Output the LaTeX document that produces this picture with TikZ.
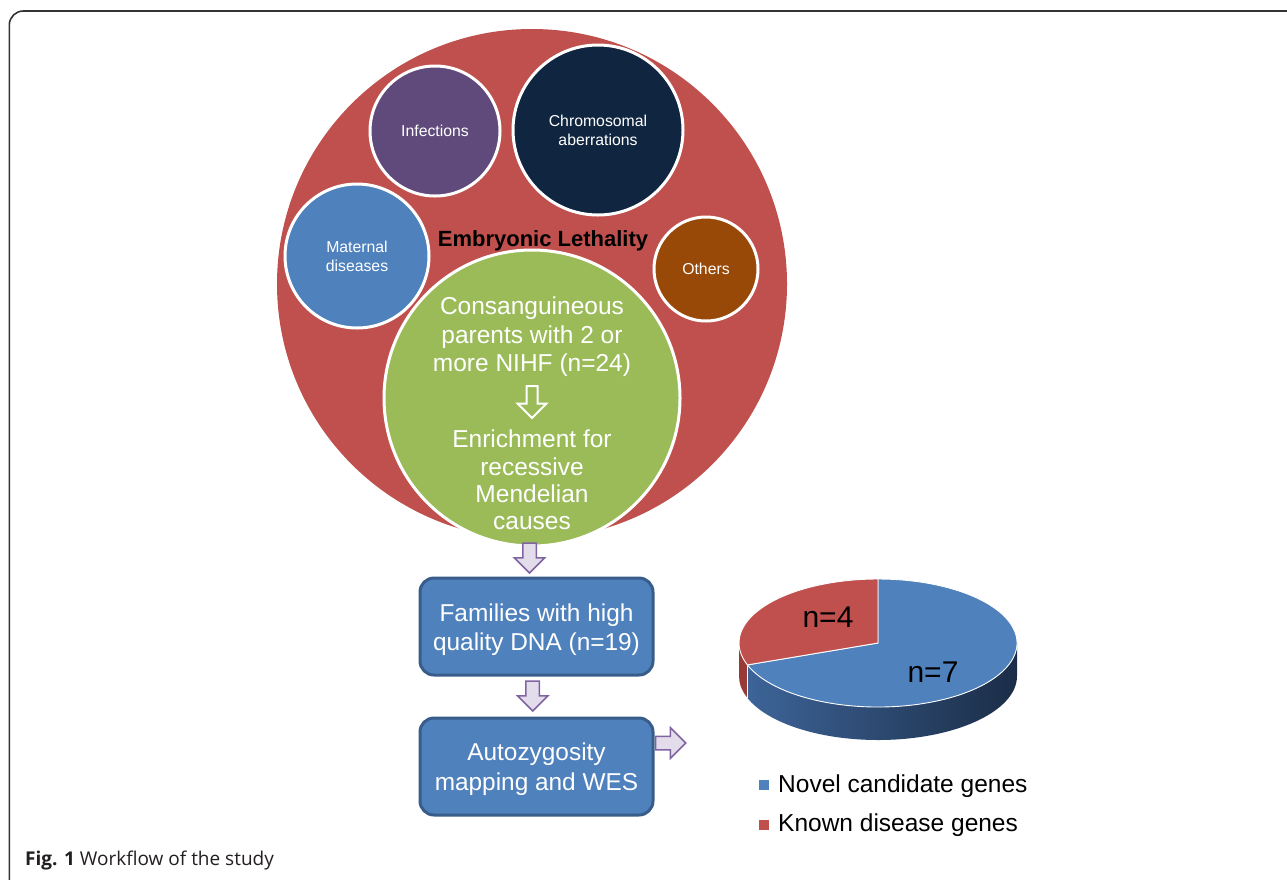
\documentclass[tikz,border=0pt]{standalone}
\usepackage{fontspec}
\setmainfont{Liberation Sans}
\newfontfamily\capfont{Open Sans}
\usetikzlibrary{shapes.arrows}
\definecolor{elred}{HTML}{C0504D}
\definecolor{purp}{HTML}{604A7B}
\definecolor{navy}{HTML}{10253F}
\definecolor{mblue}{HTML}{4F81BD}
\definecolor{brownc}{HTML}{984807}
\definecolor{greenc}{HTML}{9BBB59}
\definecolor{boxborder}{HTML}{385D8A}
\definecolor{arrfill}{HTML}{E2DCEB}
\definecolor{arrdraw}{HTML}{8064A2}
\definecolor{sideblueL}{HTML}{3D6498}
\definecolor{sideblueR}{HTML}{1B2D47}
\definecolor{sidered}{HTML}{9A3A37}
\definecolor{framec}{HTML}{333333}
\definecolor{capc}{HTML}{231F20}
\tikzset{
  smallc/.style={circle, draw=white, line width=3pt, inner sep=0pt, text=white, align=center,
     font=\fontsize{15.8}{19}\selectfont},
  greentext/.style={text=white, align=center, inner sep=0pt, font=\fontsize{24.5}{28.5}\selectfont},
  stepbox/.style={rounded corners=14pt, fill=mblue, draw=boxborder, line width=3pt,
     minimum width=233pt, minimum height=97pt, inner sep=0pt},
  boxtext/.style={text=white, align=center, inner sep=0pt, font=\fontsize{24.4}{29}\selectfont},
  blockarrow/.style={single arrow, fill=arrfill, draw=arrdraw, line width=1.5pt, inner xsep=0pt,
     inner ysep=6pt, single arrow head extend=8.5pt, minimum height=30pt, outer sep=0pt},
  hollowarrow/.style={single arrow, fill=greenc, draw=white, line width=2pt, inner xsep=0pt,
     inner ysep=4.5pt, single arrow head extend=9pt, minimum height=32pt, outer sep=0pt},
  pielabel/.style={text=black, font=\fontsize{30}{34}\selectfont, inner sep=0pt},
  legtext/.style={text=black, anchor=base west, inner sep=0pt, font=\fontsize{24.5}{28}\selectfont},
  legsq/.style={minimum size=10pt, inner sep=0pt},
}
\begin{document}
\begin{tikzpicture}[x=1pt,y=1pt]
\useasboundingbox (0,0) rectangle (1287,-879);
\fill[white] (0,0) rectangle (1287,-879);
% frame
\draw[framec, line width=1.6pt, rounded corners=14pt] (9.3,-890) -- (9.3,-11) -- (1295,-11);

% big circle and inner circles
\node[circle, fill=elred, minimum size=510pt, inner sep=0pt] (lethal) at (532,-284) {};
\node[smallc, fill=purp, minimum size=130pt] (inf) at (435,-131) {Infections};
\node[smallc, fill=navy, minimum size=170pt] (chrom) at (598,-130) {Chromosomal\\aberrations};
\node[smallc, fill=mblue, minimum size=144pt] (mat) at (357,-256) {Maternal\\diseases};
\node[smallc, fill=brownc, minimum size=104pt] (oth) at (706,-269) {Others};
\node[text=black, inner sep=0pt, font=\fontsize{22}{24}\selectfont\bfseries] (title) at (543,-241) {Embryonic Lethality};
\node[circle, fill=greenc, draw=white, line width=3pt, minimum size=296pt, inner sep=0pt] (green) at (532,-398) {};
\node[greentext] (g1) at (532,-337) {Consanguineous\\parents with 2 or\\more NIHF (n=24)};
\node[hollowarrow, rotate=-90, anchor=tail] (harrow) at (532,-386) {};
\node[greentext, font=\fontsize{24.5}{27.4}\selectfont] (g2) at (532,-480) {Enrichment for\\recessive\\Mendelian\\causes};

% flow boxes
\node[stepbox] (b1) at (536.5,-626.5) {};
\node[boxtext] (t1) at (536.5,-629.5) {Families with high\\quality DNA (n=19)};
\node[stepbox] (b2) at (536.5,-766.5) {};
\node[boxtext, font=\fontsize{24.4}{30}\selectfont] (t2) at (536.5,-769.5) {Autozygosity\\mapping and WES};
\node[blockarrow, rotate=-90, anchor=tail] (a1) at (529.5,-543) {};
\node[blockarrow, rotate=-90, anchor=tail] (a2) at (532.7,-681) {};
\node[blockarrow, anchor=tail] (a3) at (655.7,-743) {};

% pie chart
\coordinate (pc) at (878,-643);
\shade[left color=sideblueL, right color=sideblueR]
  ([shift={(pc)}]200:139pt and 64pt) arc[start angle=200, end angle=360, x radius=139pt, y radius=64pt]
  -- ++(0,-33) arc[start angle=360, end angle=200, x radius=139pt, y radius=64pt] -- cycle;
\fill[sidered]
  ([shift={(pc)}]180:139pt and 64pt) arc[start angle=180, end angle=200, x radius=139pt, y radius=64pt]
  -- ++(0,-33) arc[start angle=200, end angle=180, x radius=139pt, y radius=64pt] -- cycle;
\draw[white, line width=0.8pt] ([shift={(pc)}]200:139pt and 64pt) -- ++(0,-33);
\filldraw[fill=mblue, draw=white, line width=0.9pt]
  (pc) -- ([shift={(pc)}]200:139pt and 64pt) arc[start angle=200, end angle=450, x radius=139pt, y radius=64pt] -- cycle;
\filldraw[fill=elred, draw=white, line width=0.9pt]
  (pc) -- ([shift={(pc)}]90:139pt and 64pt) arc[start angle=90, end angle=200, x radius=139pt, y radius=64pt] -- cycle;
\node[pielabel] (n4) at (828,-617) {n=4};
\node[pielabel] (n7) at (933,-672) {n=7};

% legend
\node[legsq, fill=mblue] (sq1) at (764,-784.5) {};
\node[legsq, fill=elred] (sq2) at (764,-825) {};
\node[legtext] (l1) at (778,-792) {Novel candidate genes};
\node[legtext] (l2) at (778,-831) {Known disease genes};

% caption
\node[anchor=base west, inner sep=0pt, text=capc, font=\capfont\fontsize{19}{22}\selectfont] (cap) at (25,-865.5) {\textbf{Fig. 1} Workflow of the study};
\end{tikzpicture}
\end{document}
